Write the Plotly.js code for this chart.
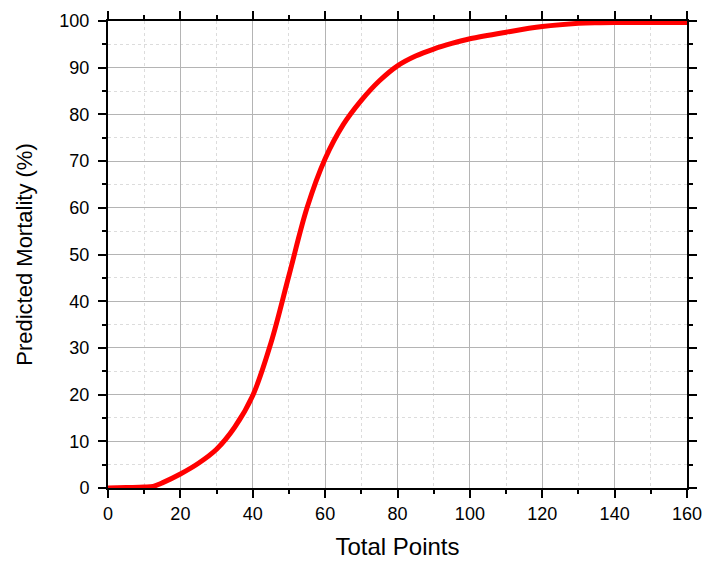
<!DOCTYPE html>
<html>
<head>
<meta charset="utf-8">
<script src="https://cdn.plot.ly/plotly-3.0.1.min.js"></script>
<style>
  html, body { margin: 0; padding: 0; background: #fff; }
  #chart { width: 719px; height: 573px; }
</style>
</head>
<body>
<div id="chart"></div>
<script>
// values
const totalPoints = [0, 5, 10, 12.5, 15, 20, 25, 30, 35, 40, 45, 50, 55, 60, 65, 70, 75, 80,
  85, 90, 95, 100, 110, 120, 130, 135, 140, 150, 160];
const mortality = [0, 0.1, 0.2, 0.35, 1.1, 3.0, 5.3, 8.3, 13.0, 19.8, 31.0, 45.5, 60.0, 70.5,
  77.8, 83.0, 87.2, 90.4, 92.5, 94.0, 95.2, 96.2, 97.6, 98.8, 99.5, 99.65, 99.7, 99.7, 99.7];

const font = "Arial, 'Liberation Sans', sans-serif";

function axis(range, dtick, minorDtick, title, standoff, titleSize) {
  return {
    range: range,
    dtick: dtick,
    tick0: 0,
    showline: true,
    linecolor: "#000",
    linewidth: 2,
    mirror: "allticks",
    ticks: "outside",
    ticklen: 8,
    tickwidth: 2,
    tickcolor: "#000",
    showgrid: true,
    gridcolor: "#b4b4b4",
    gridwidth: 1,
    zeroline: false,
    tickfont: { family: font, size: 18, color: "#000" },
    minor: {
      dtick: minorDtick,
      ticks: "outside",
      ticklen: 4,
      tickwidth: 2,
      tickcolor: "#000",
      showgrid: true,
      gridcolor: "#dcdcdc",
      gridwidth: 1,
      griddash: "dot"
    },
    title: { text: title, font: { family: font, size: titleSize, color: "#000" }, standoff: standoff }
  };
}

const xaxis = axis([0, 160], 20, 10, "Total Points", 16, 24);
const yaxis = axis([0, 100], 10, 5, "Predicted Mortality (%)", 21, 22);
yaxis.ticklabelstandoff = 5;

const layout = {
  width: 719,
  height: 573,
  margin: { l: 108, r: 32, t: 21, b: 85 },
  paper_bgcolor: "#fff",
  plot_bgcolor: "#fff",
  showlegend: false,
  xaxis: xaxis,
  yaxis: yaxis
};

Plotly.newPlot("chart", [{
  x: totalPoints,
  y: mortality,
  type: "scatter",
  mode: "lines",
  line: { color: "#ff0000", width: 5, shape: "spline", smoothing: 1 },
  hoverinfo: "skip"
}], layout, { staticPlot: true });
</script>
</body>
</html>
